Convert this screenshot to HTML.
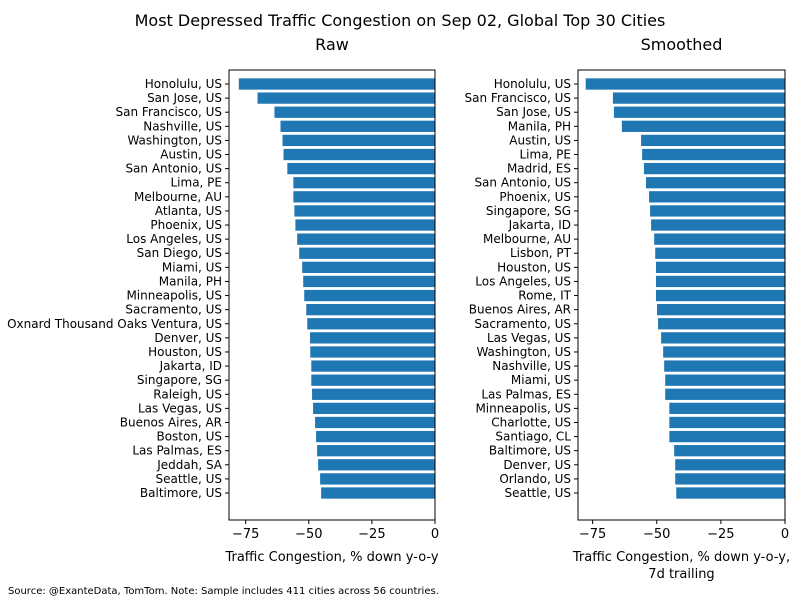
<!DOCTYPE html>
<html><head><meta charset="utf-8"><style>
body{margin:0;background:#fff;}
svg{display:block;font-family:"DejaVu Sans","Liberation Sans",sans-serif;}
</style></head><body>
<svg id="c" width="800" height="600">
<text x="400" y="26" text-anchor="middle" font-size="16">Most Depressed Traffic Congestion on Sep 02, Global Top 30 Cities</text>
<text x="8" y="594" font-size="10">Source: @ExanteData, TomTom.   Note: Sample includes 411 cities across 56 countries.</text>
</svg>
<script>
const rawCities=["Honolulu, US","San Jose, US","San Francisco, US","Nashville, US","Washington, US","Austin, US","San Antonio, US","Lima, PE","Melbourne, AU","Atlanta, US","Phoenix, US","Los Angeles, US","San Diego, US","Miami, US","Manila, PH","Minneapolis, US","Sacramento, US","Oxnard Thousand Oaks Ventura, US","Denver, US","Houston, US","Jakarta, ID","Singapore, SG","Raleigh, US","Las Vegas, US","Buenos Aires, AR","Boston, US","Las Palmas, ES","Jeddah, SA","Seattle, US","Baltimore, US"];
const rawValues=[-77.7,-70.3,-63.6,-61.2,-60.4,-60,-58.5,-56.1,-56.1,-55.7,-55.3,-54.6,-53.8,-52.6,-52.2,-51.8,-51,-50.6,-49.5,-49.4,-49,-49,-48.7,-48.3,-47.5,-47.1,-46.7,-46.3,-45.5,-45.1];
const smCities=["Honolulu, US","San Francisco, US","San Jose, US","Manila, PH","Austin, US","Lima, PE","Madrid, ES","San Antonio, US","Phoenix, US","Singapore, SG","Jakarta, ID","Melbourne, AU","Lisbon, PT","Houston, US","Los Angeles, US","Rome, IT","Buenos Aires, AR","Sacramento, US","Las Vegas, US","Washington, US","Nashville, US","Miami, US","Las Palmas, ES","Minneapolis, US","Charlotte, US","Santiago, CL","Baltimore, US","Denver, US","Orlando, US","Seattle, US"];
const smValues=[-77.7,-67.1,-66.7,-63.6,-56.1,-55.7,-55,-54.2,-53,-52.6,-52.2,-51,-50.6,-50.3,-50.3,-50.3,-49.9,-49.5,-48.3,-47.5,-47.1,-46.7,-46.7,-45.1,-45.1,-45.1,-43.2,-42.8,-42.8,-42.4];
const ticks=[-75,-50,-25,0];
const NS="http://www.w3.org/2000/svg";
const svg=document.getElementById('c');
function mk(t,a,p){const e=document.createElementNS(NS,t);for(const k in a)e.setAttribute(k,a[k]);(p||svg).appendChild(e);return e;}
function panel(key,title,cats,vals,L,R,xmin,xlab){
  const T=70,B=520;
  const g=mk('g',{});
  
  
  const x=v=>L+(v-xmin)/(0-xmin)*(R-L);
  const step=(493-84)/29;
  const y=i=>84+i*step;
  const bh=step*0.8;
  cats.forEach((c,i)=>{
    const r=mk('rect',{x:x(vals[i]),y:y(i)-bh/2,width:x(0)-x(vals[i]),height:bh,fill:'#1f77b4'},g);
    
    
    mk('line',{x1:L-4,x2:L,y1:y(i),y2:y(i),stroke:'#000'},g);
    const t=mk('text',{x:L-7,y:y(i)+4,'text-anchor':'end','font-size':'12'},g);
    t.textContent=c;
    
    
  });
  const fr=mk('rect',{x:L,y:T,width:R-L,height:B-T,fill:'none',stroke:'#000','stroke-width':1},g);
  
  
  ticks.forEach(v=>{
    mk('line',{x1:x(v),x2:x(v),y1:B,y2:B+4,stroke:'#000'},g);
    const t=mk('text',{x:x(v),y:B+18,'text-anchor':'middle','font-size':'13'},g);
    t.textContent=v===0?'0':'\u2212'+Math.abs(v);
    
    
  });
  const tt=mk('text',{x:(L+R)/2,y:50,'text-anchor':'middle','font-size':'16'},g);
  tt.textContent=title;
  
  
  xlab.forEach((s,k)=>{
    const t=mk('text',{x:(L+R)/2,y:B+41+k*17,'text-anchor':'middle','font-size':'13'},g);
    t.textContent=s;
    
    
  });
}
panel('raw','Raw',rawCities,rawValues,229,435,-81.6,['Traffic Congestion, % down y-o-y']);
panel('smoothed','Smoothed',smCities,smValues,578,785,-80.7,['Traffic Congestion, % down y-o-y,','7d trailing']);
</script>
</body></html>
